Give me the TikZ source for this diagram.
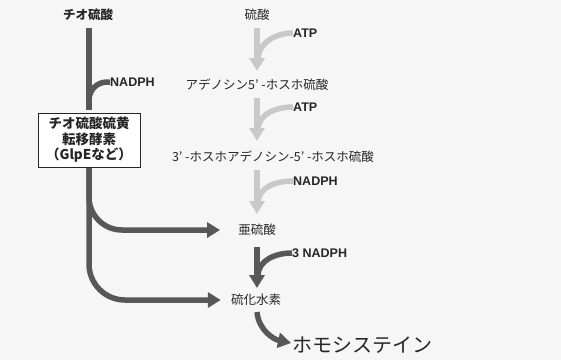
\documentclass[tikz,border=0pt]{standalone}
\usepackage{fontspec}
\setmainfont{Liberation Sans}
\newfontfamily\jp{Noto Sans CJK JP}
\usetikzlibrary{arrows.meta}
\definecolor{dk}{HTML}{585858}
\definecolor{lt}{HTML}{C9C9C9}
\definecolor{tx}{HTML}{262626}
\definecolor{bg}{HTML}{F6F6F6}
\begin{document}
\begin{tikzpicture}[x=1pt,y=-1pt,
  lbl/.style={inner sep=0pt,text=tx,font=\fontsize{12.5}{14}\selectfont\jp},
  latin/.style={inner sep=0pt,text=tx,font=\fontsize{12.5}{14}\selectfont\bfseries,anchor=west},
  darkline/.style={draw=dk,line width=5.5pt},
  darkarrow/.style={darkline,-{Triangle[length=13pt,width=15pt]}},
  lightline/.style={draw=lt,line width=5.5pt},
  lightarrow/.style={lightline,-{Triangle[length=13pt,width=15pt]}},
  enzbox/.style={draw=tx,line width=0.8pt,fill=white,minimum width=102pt,minimum height=54pt,inner sep=0pt,align=center,text=tx,font=\fontsize{13.5}{15.5}\selectfont\jp\bfseries}
]
\fill[bg] (0,0) rectangle (561,360);
\useasboundingbox (0,0) rectangle (561,360);

% left column
\node[lbl,font=\fontsize{12.5}{14}\selectfont\jp\bfseries] (thio) at (88,15) {チオ硫酸};
\coordinate (t0) at (89,28);
\coordinate (t1) at (89,110);
\coordinate (t2) at (89,160);
\coordinate (t3) at (89,230);
\node[latin] (nadph1) at (110,82) {NADPH};

% right column
\node[lbl] (sulfate) at (257,15) {硫酸};
\node[latin] (atp1) at (293,33) {ATP};
\node[lbl] (aps) at (257,85) {アデノシン5’ -ホスホ硫酸};
\node[latin] (atp2) at (293,107) {ATP};
\node[lbl] (paps) at (273,157) {3’ -ホスホアデノシン-5’ -ホスホ硫酸};
\node[latin] (nadph2) at (293,181) {NADPH};
\node[lbl] (sulfite) at (257,230) {亜硫酸};
\node[latin] (nadph3) at (292,253) {3 NADPH};
\node[lbl] (sulfide) at (256,300) {硫化水素};
\node[inner sep=0pt,text=tx,font=\fontsize{20}{22}\selectfont\jp,anchor=west] (homo) at (292,345) {ホモシステイン};

% left trunk and branches
\draw[darkline] (t0) -- (t1);
\draw[darkline,rounded corners=18pt] (89,106) |- (nadph1.west);
\draw[darkarrow,rounded corners=33pt] (t2) |- ([xshift=-18pt]sulfite.west);
\draw[darkarrow,rounded corners=36pt] (t2) |- ([xshift=-10pt]sulfide.west);
\node[enzbox] (enz) at (89,140) {チオ硫酸硫黄\\転移酵素\\（GlpEなど）};

% light arrows
\draw[lightarrow] (257,28) -- (257,71);
\draw[lightline] (atp1.west) to[out=180,in=90] (258,60);
\draw[lightarrow] (257,98) -- (257,141);
\draw[lightline] (atp2.west) to[out=180,in=90] (258,130);
\draw[lightarrow] (257,170) -- (257,214);
\draw[lightline] (nadph2.west) to[out=180,in=90] (258,203);

% dark arrows
\draw[darkarrow] (257,247) -- (257,288);
\draw[darkline] (nadph3.west) to[out=180,in=90] (258,276);
\draw[darkarrow] (257,312) to[out=-85,in=168] (291,343);
\end{tikzpicture}
\end{document}
